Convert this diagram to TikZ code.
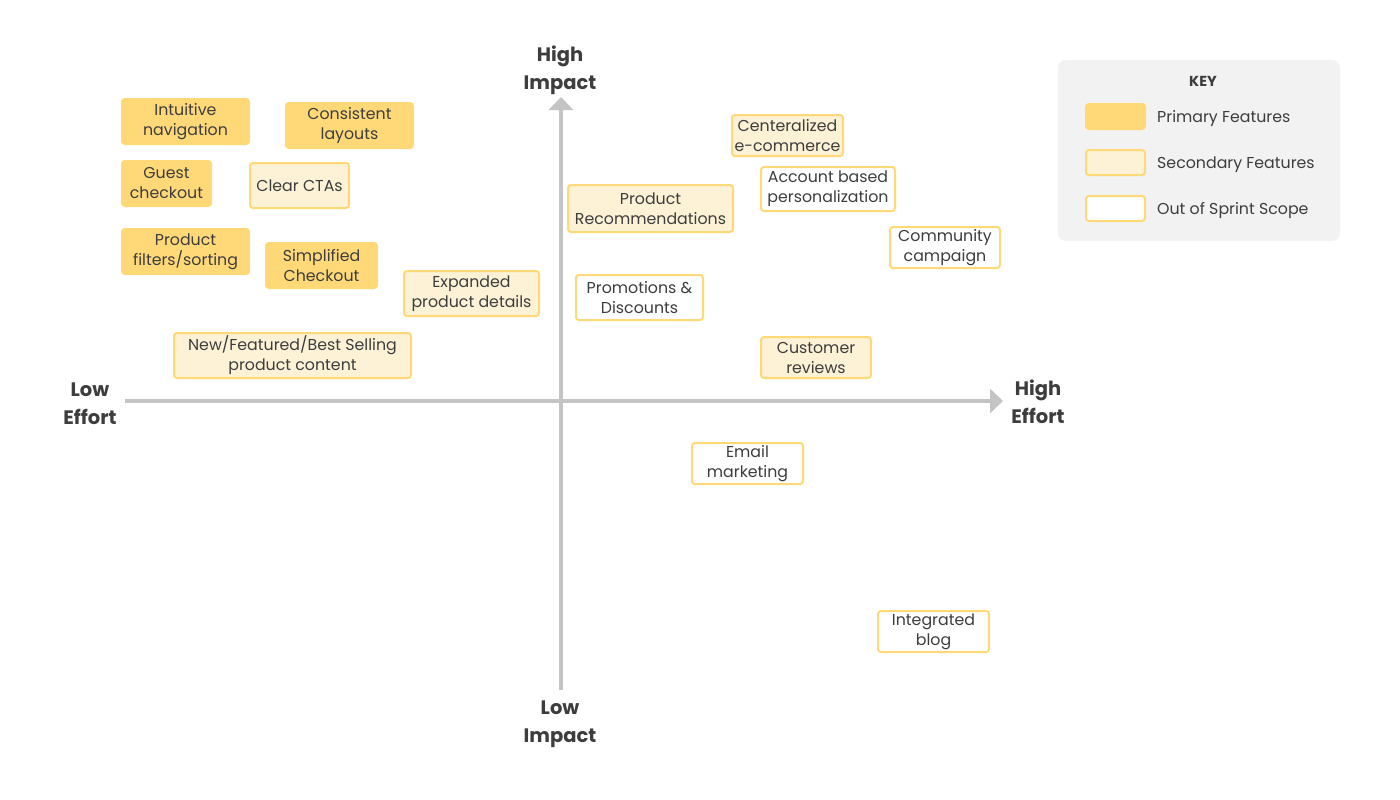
\documentclass[tikz,border=0pt]{standalone}
\usepackage{fontspec}
\setmainfont{Poppins}
\usetikzlibrary{arrows.meta}
\definecolor{prim}{HTML}{FFD978}
\definecolor{secf}{HTML}{FDF2D6}
\definecolor{axisg}{HTML}{C4C4C4}
\definecolor{keybg}{HTML}{F2F2F2}
\definecolor{txt}{HTML}{3D3D3D}
\tikzset{
  feat/.style={rounded corners=3pt, line width=2pt, align=center, inner sep=0pt,
    text=txt, font=\fontsize{15.8}{20}\selectfont},
  primbox/.style={feat, fill=prim, draw=prim},
  secbox/.style={feat, fill=secf, draw=prim},
  outbox/.style={feat, fill=white, draw=prim},
  sz/.style 2 args={minimum width=#1pt, minimum height=#2pt},
  axisline/.style={draw=axisg, line width=4pt, -{Triangle[width=24pt,length=13pt]}},
  axislabel/.style={align=center, text=txt, font=\bfseries\fontsize{19.5}{28}\selectfont},
  keytxt/.style={anchor=west, text=txt, inner sep=0pt, font=\fontsize{15.8}{18}\selectfont},
}
\begin{document}
\begin{tikzpicture}[x=1pt,y=-1pt]
\useasboundingbox[fill=white] (0,0) rectangle (1400,800);

% axes
\coordinate (xl) at (125,401);
\coordinate (xr) at (1003,401);
\coordinate (yb) at (561,690);
\coordinate (yt) at (561,97);
\draw[axisline] (xl) -- (xr);
\draw[axisline] (yb) -- (yt);
\node[axislabel] (hi) at (560,70) {High\\Impact};
\node[axislabel] (li) at (560,724) {Low\\Impact};
\node[axislabel] (le) at (90,404) {Low\\Effort};
\node[axislabel] (he) at (1038,402) {High\\Effort};

% primary
\node[primbox, sz={127}{45}] (nav) at (185.5,121.5) {Intuitive\\navigation};
\node[primbox, sz={127}{45}] (lay) at (349.5,125.5) {Consistent\\layouts};
\node[primbox, sz={89}{45}] (guest) at (166.5,183.5) {Guest\\checkout};
\node[primbox, sz={127}{45}] (filt) at (185.5,251.5) {Product\\filters/sorting};
\node[primbox, sz={111}{45}] (simp) at (321.5,265.5) {Simplified\\Checkout};

% secondary
\node[secbox, sz={99}{45}] (cta) at (299.5,185.5) {Clear CTAs};
\node[secbox, sz={135}{45}] (exp) at (471.5,293.5) {Expanded\\product details};
\node[secbox, sz={237}{45}] (newf) at (292.5,355.5) {New/Featured/Best Selling\\product content};
\node[secbox, sz={165}{47}] (rec) at (650.5,208.5) {Product\\Recommendations};
\node[secbox, sz={111}{41}] (cen) at (787.5,135.5) {Centeralized\\e-commerce};
\node[secbox, sz={110}{41}] (rev) at (816,357.5) {Customer\\reviews};

% out of scope
\node[outbox, sz={134}{44}] (acc) at (828,189) {Account based\\personalization};
\node[outbox, sz={110}{41}] (com) at (945,247.5) {Community\\campaign};
\node[outbox, sz={127}{45}] (pro) at (639.5,297.5) {Promotions \&\\Discounts};
\node[outbox, sz={111}{41}] (ema) at (747.5,463.5) {Email\\marketing};
\node[outbox, sz={111}{41}] (blog) at (933.5,631.5) {Integrated\\blog};

% key
\node[fill=keybg, rounded corners=8pt, minimum width=282pt, minimum height=181pt, inner sep=0pt] (key) at (1199,150.5) {};
\node[text=txt, font=\bfseries\fontsize{14.5}{16}\selectfont] (keyt) at (1203,81) {KEY};
\node[primbox, sz={59}{25}] (k1) at (1115.5,116.5) {};
\node[secbox, sz={59}{25}] (k2) at (1115.5,162.5) {};
\node[outbox, sz={59}{25}] (k3) at (1115.5,208.5) {};
\node[keytxt] (k1t) at (1157,119) {Primary Features};
\node[keytxt] (k2t) at (1157,165) {Secondary Features};
\node[keytxt] (k3t) at (1157,211) {Out of Sprint Scope};
\end{tikzpicture}
\end{document}
